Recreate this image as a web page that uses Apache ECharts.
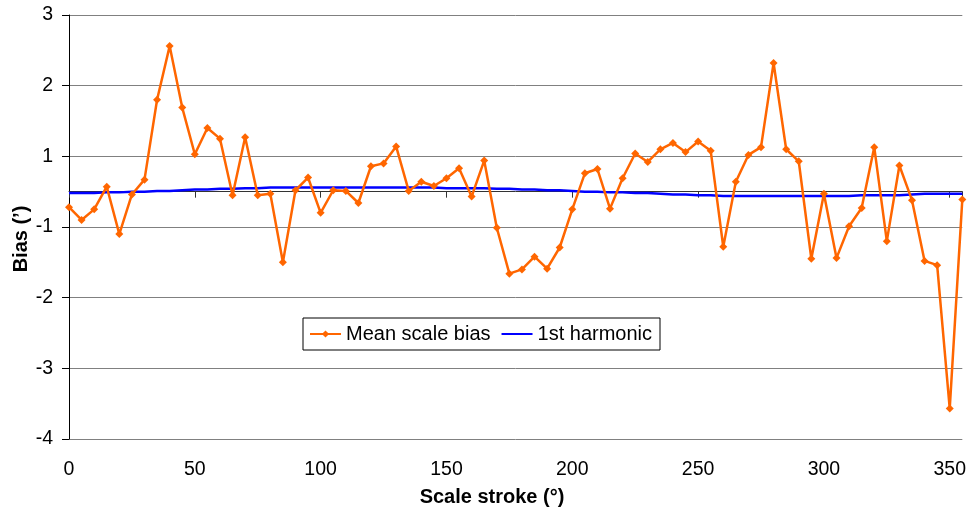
<!DOCTYPE html>
<html>
<head>
<meta charset="utf-8">
<script src="https://cdn.jsdelivr.net/npm/echarts@6/dist/echarts.min.js"></script>
<style>
html,body{margin:0;padding:0;background:#fff}
#c{width:969px;height:511px}
</style>
</head>
<body>
<div id="c"></div>
<script>
// Scale stroke (degrees)
const strokes = [0,5,10,15,20,25,30,35,40,45,50,55,60,65,70,75,80,85,90,95,
  100,105,110,115,120,125,130,135,140,145,150,155,160,165,170,175,180,185,190,195,
  200,205,210,215,220,225,230,235,240,245,250,255,260,265,270,275,280,285,290,295,
  300,305,310,315,320,325,330,335,340,345,350,355];

// Mean scale bias
const meanBias = [-0.22,-0.40,-0.25,0.07,-0.60,-0.04,0.17,1.30,2.06,1.19,
  0.53,0.90,0.75,-0.05,0.77,-0.05,-0.03,-1.00,0.02,0.20,
  -0.30,0.02,0.01,-0.16,0.36,0.40,0.64,0.01,0.14,0.08,
  0.19,0.33,-0.07,0.44,-0.51,-1.16,-1.10,-0.92,-1.09,-0.79,
  -0.25,0.26,0.32,-0.24,0.19,0.54,0.42,0.60,0.69,0.56,
  0.71,0.58,-0.78,0.14,0.52,0.63,1.82,0.60,0.43,-0.95,
  -0.03,-0.94,-0.49,-0.23,0.63,-0.70,0.37,-0.12,-0.98,-1.04,
  -3.07,-0.11];

// 1st harmonic
const harmonic = [-0.02,-0.02,-0.02,-0.01,-0.01,0.00,0.00,0.01,0.01,0.02,
  0.03,0.03,0.04,0.04,0.05,0.05,0.06,0.06,0.06,0.06,
  0.06,0.06,0.06,0.06,0.06,0.06,0.06,0.06,0.06,0.06,
  0.05,0.05,0.05,0.05,0.04,0.04,0.03,0.03,0.02,0.02,
  0.01,0.00,0.00,-0.01,-0.01,-0.02,-0.02,-0.03,-0.04,-0.04,
  -0.05,-0.05,-0.06,-0.06,-0.06,-0.06,-0.06,-0.06,-0.06,-0.06,
  -0.06,-0.06,-0.06,-0.05,-0.05,-0.05,-0.05,-0.04,-0.03,-0.03,
  -0.03,-0.03];

// Y gridline labels as printed (gridlines sit at -3.5 ... 2.5, rounded in the original)
const yTickLabels = ['-4','-3','-2','-1','1','2','3'];
const xTicks = [0,50,100,150,200,250,300,350];

const FONT = 'Liberation Sans, Arial, sans-serif';
const chart = echarts.init(document.getElementById('c'), null, {renderer:'canvas'});

const biasData = strokes.map((s,i)=>[s, meanBias[i]]);
const harmData = strokes.map((s,i)=>[s, harmonic[i]]);

chart.setOption({
  animation:false,
  backgroundColor:'#fff',
  grid:{left:69, right:4, top:15, bottom:72, containLabel:false},
  legend:{
    data:[
      {name:'Mean scale bias'},
      {name:'1st harmonic', itemStyle:{opacity:0}}
    ],
    left:303, top:318,
    orient:'horizontal',
    backgroundColor:'#fff',
    borderColor:'#000', borderWidth:1, borderRadius:0,
    padding:[6,8,6,6],
    itemWidth:31, itemHeight:9, itemGap:10,
    textStyle:{fontFamily:FONT, fontSize:20, color:'#000'}
  },
  xAxis:[
    {
      type:'value', min:0, max:355, interval:50, position:'bottom',
      axisLine:{show:false, onZero:false},
      axisTick:{show:false},
      splitLine:{show:false},
      axisLabel:{fontFamily:FONT, fontSize:19.5, color:'#000', margin:21, showMaxLabel:false,
        formatter:v=> xTicks.indexOf(v) >= 0 ? String(v) : ''}
    },
    {
      type:'value', min:0, max:355, interval:50, position:'bottom',
      axisLine:{show:true, onZero:true, onZeroAxisIndex:1, lineStyle:{color:'#333', width:1}},
      axisTick:{show:true, inside:false, length:6, lineStyle:{color:'#333'}},
      axisLabel:{show:false},
      splitLine:{show:false}
    }
  ],
  yAxis:[
    {
      type:'value', min:0, max:6, interval:1, position:'left',
      axisLine:{show:true, lineStyle:{color:'#000', width:1}},
      axisTick:{show:true, inside:false, length:7, lineStyle:{color:'#000'}},
      axisLabel:{fontFamily:FONT, fontSize:19.5, color:'#000', margin:16,
        formatter:v=> yTickLabels[Math.round(v)] || ''},
      splitLine:{show:true, lineStyle:{color:'#808080', width:1}}
    },
    {
      type:'value', min:-3.5, max:2.5, show:false,
      splitLine:{show:false}
    }
  ],
  graphic:[
    {type:'text', x:21, y:239, rotation:Math.PI/2,
      style:{text:'Bias (’)', fontFamily:FONT, fontSize:20, fontWeight:'bold', fill:'#000',
        align:'center', verticalAlign:'middle'}},
    {type:'text', x:492, y:497,
      style:{text:'Scale stroke (°)', fontFamily:FONT, fontSize:20, fontWeight:'bold', fill:'#000',
        align:'center', verticalAlign:'middle'}}
  ],
  series:[
    {
      name:'Mean scale bias', type:'line', xAxisIndex:0, yAxisIndex:1,
      data:biasData,
      symbol:'diamond', symbolSize:8, showSymbol:true,
      lineStyle:{color:'#FF6600', width:2.5},
      itemStyle:{color:'#FF6600'},
      z:3
    },
    {
      name:'1st harmonic', type:'line', xAxisIndex:0, yAxisIndex:1,
      data:harmData,
      symbol:'none', showSymbol:false,
      lineStyle:{color:'#0000FF', width:2.5},
      itemStyle:{color:'#0000FF'},
      z:2
    }
  ]
});
</script>
</body>
</html>
